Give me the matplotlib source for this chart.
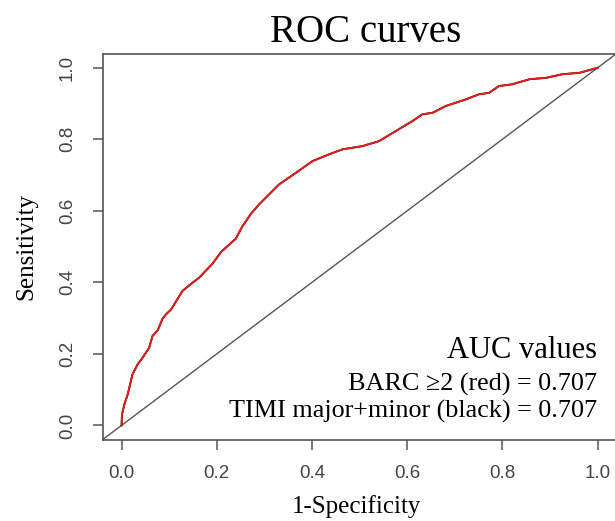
import matplotlib
matplotlib.use("Agg")
import matplotlib.pyplot as plt

# ROC curve (1-Specificity, Sensitivity)
fpr = [0.0, 0.001, 0.006, 0.013, 0.018, 0.023, 0.034, 0.044, 0.058, 0.065,
       0.076, 0.086, 0.093, 0.104, 0.128, 0.149, 0.163, 0.191, 0.209, 0.240,
       0.254, 0.272, 0.289, 0.310, 0.331, 0.366, 0.401, 0.436, 0.464, 0.506,
       0.541, 0.576, 0.611, 0.632, 0.653, 0.681, 0.724, 0.751, 0.772, 0.793,
       0.821, 0.857, 0.892, 0.926, 0.962, 1.0]
tpr = [0.0, 0.031, 0.059, 0.087, 0.115, 0.143, 0.171, 0.189, 0.217, 0.250,
       0.266, 0.298, 0.310, 0.324, 0.376, 0.399, 0.413, 0.452, 0.485, 0.522,
       0.557, 0.592, 0.618, 0.646, 0.674, 0.706, 0.739, 0.758, 0.772, 0.781,
       0.795, 0.823, 0.851, 0.870, 0.874, 0.893, 0.912, 0.926, 0.930, 0.949,
       0.954, 0.968, 0.972, 0.982, 0.986, 1.0]

ticks = [0.0, 0.2, 0.4, 0.6, 0.8, 1.0]
tick_labels = ["0.0", "0.2", "0.4", "0.6", "0.8", "1.0"]
title = "ROC curves"
xlabel = "1-Specificity"
ylabel = "Sensitivity"
auc_lines = ["AUC values", "BARC \u22652 (red) = 0.707", "TIMI major+minor (black) = 0.707"]

W, H = 615, 521
fig = plt.figure(figsize=(W / 100, H / 100), dpi=100)

def fx(px):
    return px / W

def fy(py):
    return 1 - py / H

left, right, top, bottom = 102.5, 616.6, 53.5, 439.7
ax = fig.add_axes([fx(left), fy(bottom), (right - left) / W, (bottom - top) / H])
ax.set_xlim(-0.04, 1.04)
ax.set_ylim(-0.04, 1.04)

spine_col = "#555555"
for s in ["left", "bottom", "top", "right"]:
    ax.spines[s].set_color(spine_col)
    ax.spines[s].set_linewidth(1.2)

ax.axline((0, 0), (1, 1), color="#555555", lw=1.0, zorder=1)
ax.plot(fpr, tpr, color="black", lw=1.4, zorder=2)
ax.plot(fpr, tpr, color="#ff1a1a", lw=1.2, zorder=3)

ax.set_xticks(ticks)
ax.set_xticklabels(tick_labels)
ax.set_yticks(ticks)
ax.set_yticklabels(tick_labels, rotation=90, va="center")
ax.tick_params(axis="both", length=7.2, width=1.1, color=spine_col,
               labelcolor="#444444", labelsize=13.5)
ax.tick_params(axis="x", pad=11)
ax.tick_params(axis="y", pad=12)
for lab in ax.get_xticklabels() + ax.get_yticklabels():
    lab.set_family("Liberation Sans")

serif = "Liberation Serif"
fig.text(fx(366), fy(42), title, family=serif, fontsize=28, ha="center", va="baseline")
fig.text(fx(357), fy(513), xlabel, family=serif, fontsize=18, ha="center", va="baseline")
fig.text(fx(32), fy(246), ylabel, family=serif, fontsize=18, ha="center", va="baseline",
         rotation=90, rotation_mode="anchor")

ax_right_text = 597
fig.text(fx(ax_right_text), fy(358), auc_lines[0], family=serif, fontsize=22, ha="right", va="baseline")
fig.text(fx(ax_right_text), fy(391), auc_lines[1], family=serif, fontsize=18.8, ha="right", va="baseline")
fig.text(fx(ax_right_text), fy(418), auc_lines[2], family=serif, fontsize=18.8, ha="right", va="baseline")

fig.savefig("out.png", dpi=100)
